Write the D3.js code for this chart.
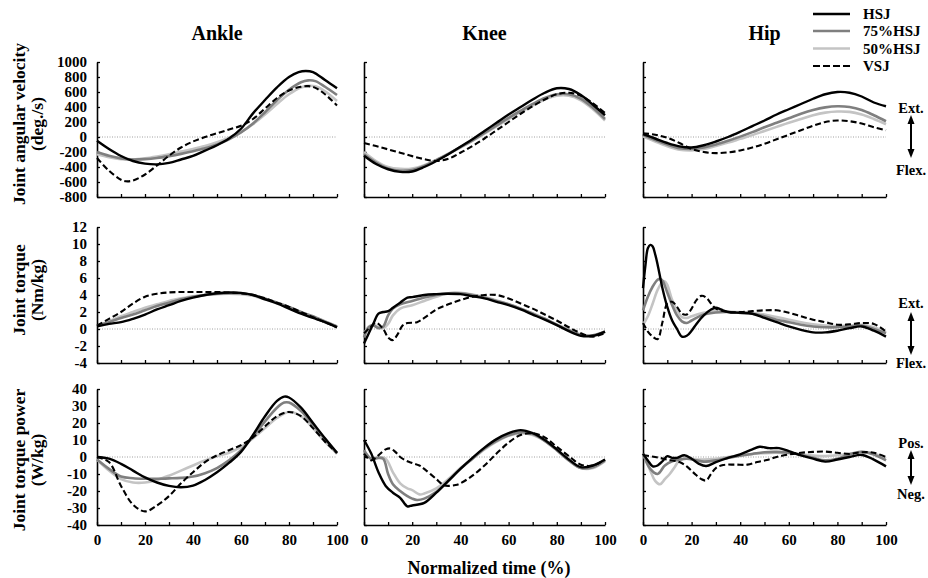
<!DOCTYPE html>
<html>
<head>
<meta charset="utf-8">
<script src="https://cdnjs.cloudflare.com/ajax/libs/d3/7.8.5/d3.min.js"></script>
<style>
body { margin: 0; background: #fff; }
svg text { font-family: 'Liberation Serif', 'Times New Roman', serif; font-weight: bold; fill: #000; }
</style>
</head>
<body>
<svg id="svgchart"></svg>
<script>
'use strict'

// categories / ticks
const jointNames = ['Ankle', 'Knee', 'Hip']
const seriesNames = ['HSJ', '75%HSJ', '50%HSJ', 'VSJ']
const timeTicks = [0, 10, 20, 30, 40, 50, 60, 70, 80, 90, 100]
const timeLabels = [0, 20, 40, 60, 80, 100]
const velocityTicks = [-800, -600, -400, -200, 0, 200, 400, 600, 800, 1000]
const torqueTicks = [-4, -2, 0, 2, 4, 6, 8, 10, 12]
const powerTicks = [-40, -30, -20, -10, 0, 10, 20, 30, 40]

// ankle angular velocity (deg./s), [time %, value]
const ankleVelHSJ = [[0,-50],[5,-160],[10,-253],[15,-320],[20,-355],[25,-365],[30,-345],[35,-300],[40,-253],[45,-182],[50,-110],[55,-20],[60,110],[65,315],[70,493],[75,662],[80,800],[84,865],[87,880],[90,865],[95,760],[100,650]]
const ankleVel75 = [[0,-200],[5,-250],[10,-285],[15,-300],[20,-295],[25,-280],[30,-255],[35,-225],[40,-190],[45,-150],[50,-100],[55,-30],[60,60],[65,180],[70,330],[75,490],[80,630],[85,730],[88,755],[91,745],[95,670],[100,560]]
const ankleVel50 = [[0,-230],[5,-270],[10,-295],[15,-300],[20,-285],[25,-260],[30,-230],[35,-195],[40,-160],[45,-120],[50,-70],[55,-10],[60,70],[65,170],[70,300],[75,440],[80,570],[85,660],[88,682],[91,675],[95,610],[100,480]]
const ankleVelVSJ = [[0,-280],[5,-450],[10,-570],[12,-590],[15,-580],[20,-500],[25,-380],[30,-250],[35,-140],[40,-60],[45,0],[50,50],[55,100],[60,150],[65,240],[70,380],[75,520],[80,620],[85,670],[88,678],[91,655],[95,570],[100,420]]

// knee angular velocity
const kneeVelHSJ = [[0,-250],[5,-360],[10,-430],[15,-465],[20,-460],[25,-400],[30,-320],[35,-230],[40,-130],[45,-30],[50,80],[55,190],[60,300],[65,400],[70,500],[75,590],[80,650],[85,640],[90,560],[95,430],[100,290]]
const kneeVel75 = [[0,-230],[5,-340],[10,-420],[15,-450],[20,-440],[25,-385],[30,-310],[35,-225],[40,-135],[45,-45],[50,55],[55,155],[60,255],[65,350],[70,440],[75,520],[80,570],[85,570],[90,510],[95,390],[100,240]]
const kneeVel50 = [[0,-200],[5,-320],[10,-400],[15,-425],[20,-420],[25,-375],[30,-305],[35,-225],[40,-140],[45,-50],[50,45],[55,140],[60,240],[65,335],[70,420],[75,500],[80,550],[85,550],[90,490],[95,370],[100,220]]
const kneeVelVSJ = [[0,-80],[5,-120],[10,-165],[15,-210],[20,-255],[25,-295],[30,-320],[35,-290],[40,-210],[45,-120],[50,-20],[55,90],[60,200],[65,310],[70,410],[75,500],[80,570],[85,590],[90,550],[95,450],[100,320]]

// hip angular velocity
const hipVelHSJ = [[0,40],[5,-20],[10,-80],[15,-125],[20,-140],[25,-110],[30,-60],[35,0],[40,70],[45,145],[50,220],[55,300],[60,370],[65,440],[70,510],[75,570],[80,600],[85,590],[90,540],[95,460],[100,410]]
const hipVel75 = [[0,30],[5,-40],[10,-100],[15,-150],[20,-160],[25,-140],[30,-100],[35,-50],[40,5],[45,65],[50,130],[55,190],[60,250],[65,310],[70,360],[75,395],[80,410],[85,400],[90,360],[95,290],[100,210]]
const hipVel50 = [[0,10],[5,-60],[10,-125],[15,-170],[20,-180],[25,-160],[30,-120],[35,-75],[40,-25],[45,25],[50,80],[55,135],[60,190],[65,240],[70,290],[75,325],[80,340],[85,335],[90,300],[95,240],[100,170]]
const hipVelVSJ = [[0,50],[5,30],[10,-10],[15,-80],[20,-160],[25,-200],[30,-215],[35,-205],[40,-180],[45,-140],[50,-90],[55,-30],[60,30],[65,90],[70,150],[75,200],[80,220],[85,210],[90,180],[95,130],[100,90]]

// ankle joint torque (Nm/kg)
const ankleTqHSJ = [[0,0.3],[5,0.6],[10,0.8],[15,1.2],[20,1.7],[25,2.3],[30,2.8],[35,3.3],[40,3.7],[45,4.0],[50,4.2],[55,4.3],[60,4.25],[65,4.0],[70,3.5],[75,3.0],[80,2.4],[85,1.8],[90,1.3],[95,0.8],[100,0.2]]
const ankleTq75 = [[0,0.4],[5,0.8],[10,1.3],[15,1.7],[20,2.2],[25,2.7],[30,3.1],[35,3.5],[40,3.8],[45,4.0],[50,4.15],[55,4.2],[60,4.2],[65,4.0],[70,3.6],[75,3.1],[80,2.6],[85,2.0],[90,1.5],[95,0.9],[100,0.3]]
const ankleTq50 = [[0,0.4],[5,0.9],[10,1.5],[15,2.0],[20,2.5],[25,2.9],[30,3.3],[35,3.6],[40,3.85],[45,4.0],[50,4.1],[55,4.15],[60,4.1],[65,3.9],[70,3.5],[75,3.0],[80,2.5],[85,1.9],[90,1.4],[95,0.8],[100,0.3]]
const ankleTqVSJ = [[0,0.4],[5,1.2],[10,2.0],[15,3.0],[20,3.8],[25,4.15],[30,4.3],[35,4.35],[40,4.35],[45,4.35],[50,4.35],[55,4.3],[60,4.2],[65,4.0],[70,3.6],[75,3.1],[80,2.6],[85,2.0],[90,1.4],[95,0.8],[100,0.2]]

// knee joint torque
const kneeTqHSJ = [[0,-1.7],[2,-0.5],[4,0.7],[6,1.8],[8,2.0],[10,2.1],[12,2.5],[15,3.1],[18,3.7],[20,3.75],[25,4.0],[30,4.1],[35,4.15],[40,4.1],[45,3.85],[50,3.6],[55,3.2],[60,2.8],[65,2.3],[70,1.7],[75,1.1],[80,0.45],[85,-0.25],[90,-0.8],[95,-0.8],[100,-0.3]]
const kneeTq75 = [[0,-1.0],[2,0.2],[4,0.4],[6,0.1],[8,0.3],[10,1.6],[12,2.4],[15,2.9],[20,3.3],[25,3.7],[30,4.0],[35,4.2],[40,4.2],[45,4.0],[50,3.7],[55,3.3],[60,2.9],[65,2.4],[70,1.8],[75,1.2],[80,0.5],[85,-0.15],[90,-0.7],[95,-0.75],[100,-0.3]]
const kneeTq50 = [[0,-0.6],[2,0.3],[4,0.5],[6,0.2],[8,0.1],[10,0.6],[12,1.6],[15,2.4],[20,2.8],[25,3.3],[30,3.8],[35,4.2],[40,4.25],[45,4.05],[50,3.75],[55,3.35],[60,2.9],[65,2.4],[70,1.85],[75,1.2],[80,0.55],[85,-0.1],[90,-0.65],[95,-0.8],[100,-0.35]]
const kneeTqVSJ = [[0,-0.5],[3,0.3],[5,0.75],[8,0.0],[10,-1.0],[12,-1.3],[14,-0.6],[16,0.4],[18,0.7],[22,0.8],[25,1.3],[30,2.3],[35,2.9],[40,3.4],[45,3.8],[50,4.0],[55,4.0],[60,3.6],[65,3.0],[70,2.4],[75,1.7],[80,1.0],[85,0.2],[90,-0.5],[95,-0.9],[100,-0.5]]

// hip joint torque
const hipTqHSJ = [[0,4.8],[1,7.5],[2,9.5],[3,9.9],[4,9.7],[5,8.8],[6,7.6],[8,4.8],[10,2.6],[12,1.0],[14,0.0],[16,-0.9],[18,-0.8],[20,-0.2],[22,0.6],[25,1.6],[28,2.3],[30,2.5],[32,2.3],[35,2.0],[40,1.9],[45,1.8],[50,1.3],[55,0.8],[60,0.3],[65,-0.1],[70,-0.4],[75,-0.4],[80,-0.2],[85,0.1],[90,0.3],[95,-0.2],[100,-0.9]]
const hipTq75 = [[0,2.2],[2,3.8],[4,5.0],[6,5.8],[7,5.9],[8,5.7],[10,4.3],[12,2.8],[14,1.6],[16,0.9],[18,0.7],[20,1.0],[25,1.7],[30,1.95],[35,2.0],[40,1.9],[45,1.8],[50,1.5],[55,1.1],[60,0.8],[65,0.5],[70,0.3],[75,0.2],[80,0.2],[85,0.3],[90,0.4],[95,0.0],[100,-0.5]]
const hipTq50 = [[0,0.5],[2,1.5],[4,3.0],[6,4.6],[8,5.5],[9,5.6],[10,5.2],[12,3.4],[14,2.2],[16,1.4],[18,1.3],[20,1.5],[25,1.9],[30,2.1],[35,2.05],[40,2.0],[45,1.9],[50,1.7],[55,1.4],[60,1.1],[65,0.8],[70,0.55],[75,0.4],[80,0.35],[85,0.4],[90,0.5],[95,0.2],[100,-0.4]]
const hipTqVSJ = [[0,0.7],[2,-0.3],[4,-0.9],[6,-1.2],[8,0.8],[10,3.0],[12,3.2],[14,2.6],[16,1.8],[18,1.7],[20,2.4],[22,3.4],[24,3.9],[26,3.7],[28,3.0],[30,2.4],[35,2.0],[40,2.0],[45,2.1],[50,2.2],[55,2.2],[60,1.9],[65,1.5],[70,1.1],[75,0.8],[80,0.5],[85,0.55],[90,0.7],[95,0.6],[100,-0.3]]

// ankle joint torque power (W/kg)
const anklePwHSJ = [[0,0],[5,-1],[10,-4],[15,-8],[20,-12],[25,-15],[30,-17],[35,-17.8],[40,-16.8],[45,-13.5],[50,-9],[55,-3.5],[60,3],[65,13],[70,24],[75,33],[78,35.5],[80,35],[85,29],[90,20],[95,11],[100,2.5]]
const anklePw75 = [[0,-1.5],[5,-7],[10,-11.5],[15,-12.5],[20,-12.8],[25,-12.8],[30,-12.6],[35,-12.3],[40,-11.5],[45,-9.5],[50,-6.5],[55,-2],[60,4],[65,12],[70,21],[75,29],[78,32],[80,32],[85,27],[90,19],[95,10.5],[100,2]]
const anklePw50 = [[0,-1.5],[5,-8],[10,-13],[15,-15],[20,-15],[25,-13.5],[30,-11],[35,-8],[40,-5],[45,-2],[50,0.5],[55,2.5],[60,6],[65,11],[70,17],[75,23],[80,26.5],[85,24],[90,17],[95,9],[100,2]]
const anklePwVSJ = [[0,0],[5,-3],[10,-17],[15,-28],[20,-32],[25,-28.5],[30,-23],[35,-15.5],[40,-9],[45,-3],[50,1],[55,4],[60,7],[65,11.5],[70,18],[75,24],[80,26.5],[85,24],[90,17],[95,9],[100,2.5]]

// knee joint torque power
const kneePwHSJ = [[0,10],[3,2],[6,-9],[9,-17],[12,-21],[15,-24],[18,-29],[20,-28.5],[25,-27],[30,-21],[35,-14],[40,-7],[45,-0.5],[50,5.5],[55,10.5],[60,14],[65,15.8],[70,14],[75,10],[80,4.5],[85,-1.5],[90,-6],[95,-5],[100,-1.5]]
const kneePw75 = [[0,4],[3,-1],[6,-0.5],[8,-1],[10,-10],[12,-16],[15,-20],[18,-23],[20,-24.5],[22,-25.3],[25,-24.5],[30,-20.5],[35,-14],[40,-7],[45,-1],[50,5],[55,9.5],[60,12.8],[65,14.5],[70,13.5],[75,9.5],[80,4],[85,-2],[90,-6.5],[95,-6],[100,-2]]
const kneePw50 = [[0,2],[3,-1],[6,0],[9,-1],[12,-9],[15,-15.5],[18,-18.5],[20,-19.5],[23,-22],[25,-21.5],[30,-18.5],[35,-13],[40,-6.5],[45,-1],[50,4.5],[55,9],[60,12.5],[65,14],[70,13],[75,9.5],[80,4],[85,-2],[90,-6.5],[95,-6.5],[100,-2.5]]
const kneePwVSJ = [[0,2],[3,-2],[6,1],[9,4.5],[11,5],[13,3],[15,0],[18,-2.5],[20,-3.5],[23,-5],[25,-7],[30,-13],[33,-16.5],[35,-17],[38,-16.5],[40,-15.5],[45,-11],[50,-5],[55,2],[60,8.5],[65,13],[70,14],[75,11.5],[80,6],[85,0.5],[90,-4.5],[95,-5],[100,-1.5]]

// hip joint torque power
const hipPwHSJ = [[0,2],[2,-2],[4,-5.5],[6,-5],[8,-2.5],[10,0.5],[12,-0.5],[14,-0.5],[17,1],[20,-1],[23,-4],[26,-5.3],[30,-3],[35,-0.5],[40,1.5],[45,4.5],[48,6],[52,5.2],[56,5.2],[60,3.5],[65,1],[70,-1],[75,-2.7],[80,-1.5],[85,0],[90,1.2],[95,-1.5],[100,-5.5]]
const hipPw75 = [[0,2],[3,-7],[6,-10],[9,-5],[12,-2.5],[15,-1.5],[18,-1],[22,-2],[25,-2.7],[30,-2],[35,-0.5],[40,0.8],[45,1.8],[50,2.8],[55,3],[60,2.5],[65,1.3],[70,-0.5],[75,-2],[80,-1],[85,1.5],[90,3],[95,1.5],[100,-2]]
const hipPw50 = [[0,2],[3,-8],[5,-14],[7,-16],[9,-13],[11,-10],[13,-6],[15,-2],[18,-0.5],[22,-1.5],[25,-1.5],[30,-1],[35,0],[40,1],[45,1.8],[50,2.3],[55,2.5],[60,2.2],[65,1.5],[70,0.8],[75,0.5],[80,1],[85,2],[90,3],[95,2],[100,-1]]
const hipPwVSJ = [[0,1],[5,0],[10,-1.5],[15,-3],[18,-5.5],[21,-9.5],[24,-13],[26,-13.8],[28,-10],[30,-6.5],[33,-4.7],[38,-4.5],[43,-4.5],[47,-3],[51,-1.8],[55,0],[60,1.5],[65,2.5],[70,3],[75,3.2],[80,2.5],[85,1.8],[90,2.8],[95,2.5],[100,0]]

// rows of panels: [quantity][joint] -> 4 series (HSJ, 75%, 50%, VSJ)
const panelData = [
	[[ankleVelHSJ, ankleVel75, ankleVel50, ankleVelVSJ], [kneeVelHSJ, kneeVel75, kneeVel50, kneeVelVSJ], [hipVelHSJ, hipVel75, hipVel50, hipVelVSJ]],
	[[ankleTqHSJ, ankleTq75, ankleTq50, ankleTqVSJ], [kneeTqHSJ, kneeTq75, kneeTq50, kneeTqVSJ], [hipTqHSJ, hipTq75, hipTq50, hipTqVSJ]],
	[[anklePwHSJ, anklePw75, anklePw50, anklePwVSJ], [kneePwHSJ, kneePw75, kneePw50, kneePwVSJ], [hipPwHSJ, hipPw75, hipPw50, hipPwVSJ]]
]
const rowTicks = [velocityTicks, torqueTicks, powerTicks]
const rowLabels = [['Joint angular velocity', '(deg./s)'], ['Joint torque', '(Nm/kg)'], ['Joint torque power', '(W/kg)']]
const sideLabels = [['Ext.', 'Flex.'], ['Ext.', 'Flex.'], ['Pos.', 'Neg.']]

// layout
const width = 928
const height = 578
const colX = [[97, 337], [364, 605], [643, 886]] // x range of each column
const rowY = [[197, 62], [363, 227], [525, 389]] // y range (bottom, top) of each row
const labelCenterY = [124, 290, 460]
const seriesStyle = [
	{ color: '#000', width: 2.4, dash: null },
	{ color: '#7f7f7f', width: 2.6, dash: null },
	{ color: '#c4c4c4', width: 2.6, dash: null },
	{ color: '#000', width: 2.1, dash: '6,3' }
]
const drawOrder = [2, 1, 0, 3]

const svg = d3.select('#svgchart')
	.attr('width', width)
	.attr('height', height)

svg.append('rect').attr('width', width).attr('height', height).attr('fill', '#fff')

// column titles
jointNames.forEach((name, c) => {
	svg.append('text')
		.attr('x', (colX[c][0] + colX[c][1]) / 2)
		.attr('y', 40)
		.attr('text-anchor', 'middle')
		.style('font-size', '20px')
		.text(name)
})

panelData.forEach((row, r) => {
	const ticks = rowTicks[r]
	row.forEach((seriesList, c) => {
		const x = d3.scaleLinear().domain([0, 100]).range(colX[c])
		const y = d3.scaleLinear().domain([ticks[0], ticks[ticks.length - 1]]).range(rowY[r])
		const g = svg.append('g')

		// dotted zero line
		g.append('line')
			.attr('x1', x(0)).attr('x2', x(100))
			.attr('y1', y(0)).attr('y2', y(0))
			.attr('stroke', '#888')
			.attr('stroke-width', 0.8)
			.attr('stroke-dasharray', '1,1.5')

		// x axis
		const xAxis = d3.axisBottom(x)
			.tickValues(timeTicks)
			.tickSizeInner(-3)
			.tickSizeOuter(0)
			.tickPadding(9)
			.tickFormat((d) => (r === 2 && timeLabels.includes(d)) ? d : '')
		const gx = g.append('g')
			.attr('transform', 'translate(0,' + rowY[r][0] + ')')
			.call(xAxis)

		// y axis
		const yAxis = d3.axisLeft(y)
			.tickValues(ticks)
			.tickSizeInner(-3)
			.tickSizeOuter(0)
			.tickPadding(10)
			.tickFormat((d) => c === 0 ? d : '')
		const gy = g.append('g')
			.attr('transform', 'translate(' + colX[c][0] + ',0)')
			.call(yAxis)

		;[gx, gy].forEach((ax) => {
			ax.select('.domain').attr('stroke', '#000').attr('stroke-width', 1.6)
			ax.selectAll('.tick line').attr('stroke', '#000').attr('stroke-width', 1.3)
			ax.selectAll('.tick text')
				.style('font-family', "'Liberation Serif', 'Times New Roman', serif")
				.style('font-weight', 'bold')
				.style('font-size', '15px')
				.attr('fill', '#000')
		})

		// curves
		const line = d3.line()
			.x((d) => x(d[0]))
			.y((d) => y(d[1]))
			.curve(d3.curveCatmullRom.alpha(0.5))
		drawOrder.forEach((s) => {
			const st = seriesStyle[s]
			g.append('path')
				.datum(seriesList[s])
				.attr('d', line)
				.attr('fill', 'none')
				.attr('stroke', st.color)
				.attr('stroke-width', st.width)
				.attr('stroke-dasharray', st.dash)
				.attr('stroke-linejoin', 'round')
		})
	})

	// y axis title (two lines, rotated)
	rowLabels[r].forEach((txt, i) => {
		svg.append('text')
			.attr('transform', 'translate(' + (i === 0 ? 25 : 43) + ',' + labelCenterY[r] + ') rotate(-90)')
			.attr('text-anchor', 'middle')
			.style('font-size', '17.5px')
			.text(txt)
	})
})

// side annotations with double arrows
const sideY = [[113, 175, 115, 158], [308, 368, 312, 355], [448, 499, 450, 485]]
sideLabels.forEach((pair, r) => {
	const [yTop, yBot, a1, a2] = sideY[r]
	svg.append('text').attr('x', 911).attr('y', yTop).attr('text-anchor', 'middle').style('font-size', '14.5px').text(pair[0])
	svg.append('text').attr('x', 911).attr('y', yBot).attr('text-anchor', 'middle').style('font-size', '14.5px').text(pair[1])
	svg.append('line')
		.attr('x1', 911).attr('x2', 911)
		.attr('y1', a1 + 6).attr('y2', a2 - 6)
		.attr('stroke', '#000').attr('stroke-width', 2)
	svg.append('path').attr('d', `M911,${a1} L907.5,${a1 + 9} L914.5,${a1 + 9} Z`).attr('fill', '#000')
	svg.append('path').attr('d', `M911,${a2} L907.5,${a2 - 9} L914.5,${a2 - 9} Z`).attr('fill', '#000')
})

// legend
const legendY = [14, 31, 48.5, 66]
seriesNames.forEach((name, s) => {
	const st = seriesStyle[s]
	svg.append('line')
		.attr('x1', 813).attr('x2', 850)
		.attr('y1', legendY[s]).attr('y2', legendY[s])
		.attr('stroke', st.color)
		.attr('stroke-width', s === 3 ? 2.2 : 2.6)
		.attr('stroke-dasharray', s === 3 ? '7,3' : null)
	svg.append('text')
		.attr('x', 863)
		.attr('y', legendY[s] + 5)
		.style('font-size', '15px')
		.text(name)
})

// x axis title
svg.append('text')
	.attr('x', 489)
	.attr('y', 574)
	.attr('text-anchor', 'middle')
	.style('font-size', '18px')
	.text('Normalized time (%)')
</script>
</body>
</html>
